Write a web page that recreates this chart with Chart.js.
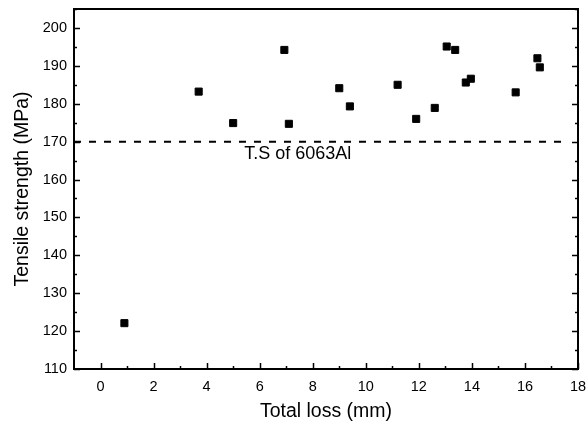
<!DOCTYPE html>
<html>
<head>
<meta charset="utf-8">
<script src="https://cdn.jsdelivr.net/npm/chart.js@4"></script>
<style>
    html, body { margin: 0; padding: 0; background: #fff; }
    #wrap { width: 587px; height: 428px; position: relative; }
</style>
</head>
<body>
<div id="wrap"><canvas id="tsChart"></canvas></div>
<script>
// data
const totalLoss = [0.9, 3.7, 5.0, 6.93, 7.1, 9.0, 9.4, 11.2, 11.9, 12.6, 13.05, 13.37, 13.77, 13.96, 15.65, 16.47, 16.56];
const tensileStrength = [122.1, 183.2, 174.9, 194.2, 174.7, 184.1, 179.3, 185.0, 176.0, 178.9, 195.1, 194.2, 185.6, 186.6, 183.0, 192.0, 189.6];
const xTicks = [0, 2, 4, 6, 8, 10, 12, 14, 16, 18];
const yTicks = [110, 120, 130, 140, 150, 160, 170, 180, 190, 200];
const refLevel = 170;
const refSpan = [-1, 17.55];
const refLabel = 'T.S of 6063Al';
const refLabelAt = [5.42, 166.6];

const FONT = '"Liberation Sans", Arial, sans-serif';

// inward ticks + frame + annotation text
const frame = {
    id: 'frame',
    afterDraw(chart) {
        const { ctx, chartArea: a, scales: { x, y } } = chart;
        ctx.save();
        ctx.strokeStyle = '#000';
        ctx.lineWidth = 2;
        ctx.strokeRect(a.left, a.top, a.right - a.left, a.bottom - a.top);

        ctx.lineWidth = 1.5;
        ctx.beginPath();
        for (let v = 0; v <= 18; v++) {
            const px = Math.round(x.getPixelForValue(v)) + 0.5;
            const len = v % 2 === 0 ? 6 : 3;
            ctx.moveTo(px, a.bottom);
            ctx.lineTo(px, a.bottom - len);
        }
        for (let v = 110; v <= 205; v += 5) {
            const py = Math.round(y.getPixelForValue(v)) + 0.5;
            const len = v % 10 === 0 ? 6 : 3;
            ctx.moveTo(a.left, py);
            ctx.lineTo(a.left + len, py);
            ctx.moveTo(a.right, py);
            ctx.lineTo(a.right - len, py);
        }
        ctx.stroke();

        ctx.fillStyle = '#000';
        ctx.font = '18px ' + FONT;
        ctx.textAlign = 'left';
        ctx.textBaseline = 'middle';
        ctx.fillText(refLabel, x.getPixelForValue(refLabelAt[0]), y.getPixelForValue(refLabelAt[1]));
        ctx.restore();
    }
};

function noOverhang(s) {
    s.paddingLeft = 0;
    s.paddingRight = 0;
    s.paddingTop = 0;
    s.paddingBottom = 0;
}

new Chart(document.getElementById('tsChart'), {
    type: 'scatter',
    data: {
        datasets: [
            {
                label: 'Tensile strength',
                data: totalLoss.map((v, i) => ({ x: v, y: tensileStrength[i] })),
                pointStyle: 'rect',
                pointRadius: 5,
                pointBorderWidth: 1,
                backgroundColor: '#000',
                borderColor: '#000'
            },
            {
                label: 'T.S',
                data: refSpan.map(v => ({ x: v, y: refLevel })),
                showLine: true,
                pointRadius: 0,
                borderColor: '#000',
                borderWidth: 2,
                borderDash: [7, 8]
            }
        ]
    },
    plugins: [frame],
    options: {
        responsive: true,
        maintainAspectRatio: false,
        animation: false,
        layout: { padding: { top: 9, right: 9, left: 0, bottom: 0 } },
        plugins: { legend: { display: false }, tooltip: { enabled: false } },
        scales: {
            x: {
                type: 'linear',
                min: -1,
                max: 18,
                afterBuildTicks: s => { s.ticks = xTicks.map(v => ({ value: v })); },
                afterFit: s => { s.height = 59; noOverhang(s); },
                grid: { display: false, drawTicks: false },
                border: { display: false },
                ticks: { color: '#000', font: { family: FONT, size: 14.5 }, padding: 9, maxRotation: 0 },
                title: { display: true, text: 'Total loss (mm)', color: '#000', font: { family: FONT, size: 19.5 }, padding: { top: 0, bottom: 5 } }
            },
            y: {
                type: 'linear',
                min: 110,
                max: 205,
                afterBuildTicks: s => { s.ticks = yTicks.map(v => ({ value: v })); },
                afterFit: s => { s.width = 74; noOverhang(s); },
                grid: { display: false, drawTicks: false },
                border: { display: false },
                ticks: { color: '#000', font: { family: FONT, size: 14.5 }, padding: 7 },
                title: { display: true, text: 'Tensile strength (MPa)', color: '#000', font: { family: FONT, size: 19.5 }, padding: { top: 11, bottom: 0 } }
            }
        }
    }
});
</script>
</body>
</html>
